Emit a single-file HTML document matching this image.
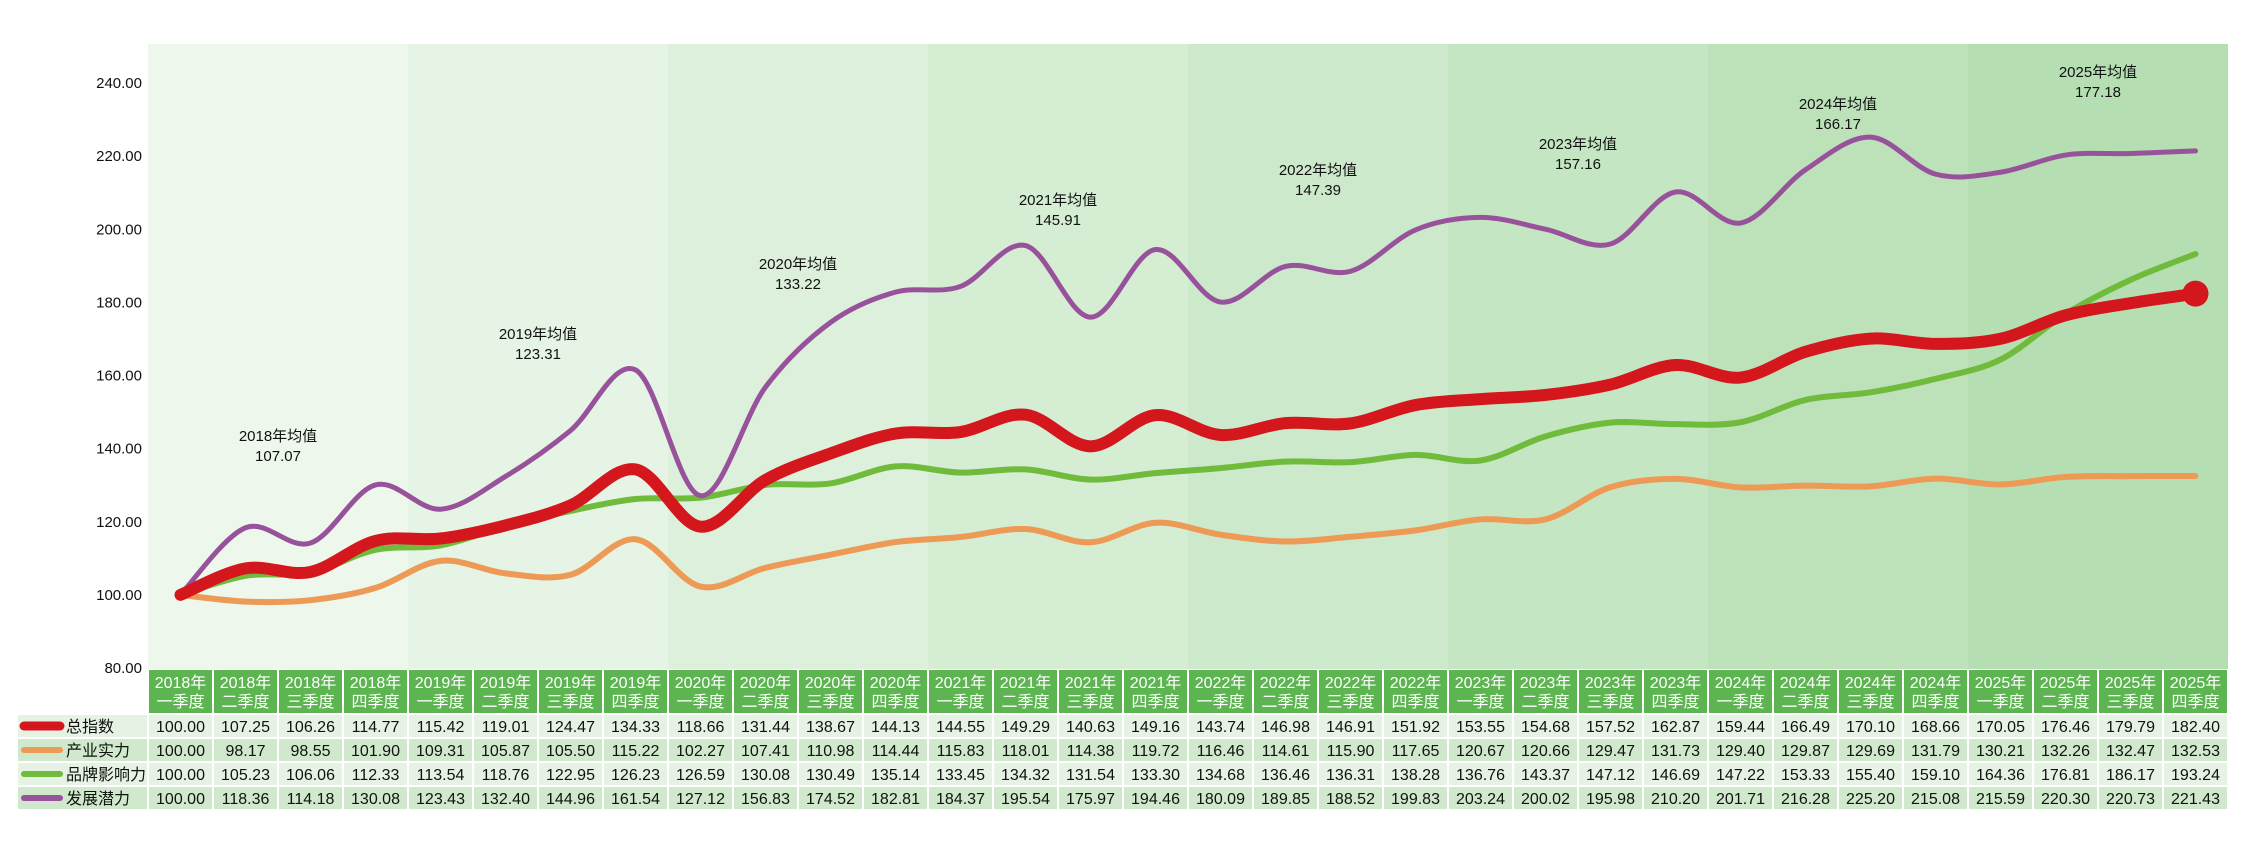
<!DOCTYPE html>
<html><head><meta charset="utf-8"><style>
html,body{margin:0;padding:0;background:#fff;}
svg{display:block;font-family:"Liberation Sans","Noto Sans CJK SC",sans-serif;}
</style></head><body>
<svg id="s" width="2259" height="860" xmlns="http://www.w3.org/2000/svg"></svg>
<script>
const D={
"总指数":[100.00,107.25,106.26,114.77,115.42,119.01,124.47,134.33,118.66,131.44,138.67,144.13,144.55,149.29,140.63,149.16,143.74,146.98,146.91,151.92,153.55,154.68,157.52,162.87,159.44,166.49,170.10,168.66,170.05,176.46,179.79,182.40],
"产业实力":[100.00,98.17,98.55,101.90,109.31,105.87,105.50,115.22,102.27,107.41,110.98,114.44,115.83,118.01,114.38,119.72,116.46,114.61,115.90,117.65,120.67,120.66,129.47,131.73,129.40,129.87,129.69,131.79,130.21,132.26,132.47,132.53],
"品牌影响力":[100.00,105.23,106.06,112.33,113.54,118.76,122.95,126.23,126.59,130.08,130.49,135.14,133.45,134.32,131.54,133.30,134.68,136.46,136.31,138.28,136.76,143.37,147.12,146.69,147.22,153.33,155.40,159.10,164.36,176.81,186.17,193.24],
"发展潜力":[100.00,118.36,114.18,130.08,123.43,132.40,144.96,161.54,127.12,156.83,174.52,182.81,184.37,195.54,175.97,194.46,180.09,189.85,188.52,199.83,203.24,200.02,195.98,210.20,201.71,216.28,225.20,215.08,215.59,220.30,220.73,221.43]};
const cols={"总指数":"#d4161d","产业实力":"#ec9a55","品牌影响力":"#70bb3b","发展潜力":"#98529c"};
const avg=["107.07","123.31","133.22","145.91","147.39","157.16","166.17","177.18"];
const ay=[436,334,264,200,170,144,104,72];
const L=148,W=65,T=44,B=669;
const Y=v=>668-(v-80)*3.656;
const X=i=>L+W*(i+0.5);
let s='';
function mix(a,b,t){return Math.round(a+(b-a)*t);}
for(let y=0;y<8;y++){const t=y/7;
 s+=`<rect x="${L+260*y}" y="${T}" width="260" height="${B-T}" fill="rgb(${mix(237,181,t)},${mix(247,223,t)},${mix(236,178,t)})"/>`;}
for(let v=80;v<=240;v+=20)s+=`<text x="142" y="${Y(v)+5}" font-size="15" text-anchor="end" fill="#111">${v.toFixed(2)}</text>`;
for(let y=0;y<8;y++){const cx=L+260*y+130;
 s+=`<text x="${cx}" y="${ay[y]+5}" font-size="15" text-anchor="middle" fill="#111">${2018+y}年均值</text><text x="${cx}" y="${ay[y]+25}" font-size="15" text-anchor="middle" fill="#111">${avg[y]}</text>`;}
function path(a){let p=`M${X(0)},${Y(a[0])}`;
 for(let i=0;i<a.length-1;i++){const p0=[X(Math.max(i-1,0)),Y(a[Math.max(i-1,0)])],p1=[X(i),Y(a[i])],p2=[X(i+1),Y(a[i+1])],p3=[X(Math.min(i+2,a.length-1)),Y(a[Math.min(i+2,a.length-1)])];
 const k=6;p+=` C${p1[0]+(p2[0]-p0[0])/k},${p1[1]+(p2[1]-p0[1])/k} ${p2[0]-(p3[0]-p1[0])/k},${p2[1]-(p3[1]-p1[1])/k} ${p2[0]},${p2[1]}`;}
 return p;}
const order=[["产业实力",6],["品牌影响力",6],["发展潜力",5],["总指数",12]];
for(const [k,w] of order)s+=`<path d="${path(D[k])}" fill="none" stroke="${cols[k]}" stroke-width="${w}" stroke-linecap="round" stroke-linejoin="round"/>`;
s+=`<circle cx="${X(31)}" cy="${Y(182.4)}" r="13" fill="#d4161d"/>`;
const sn=["一","二","三","四"];
for(let i=0;i<32;i++){const x=L+W*i+1;
 s+=`<rect x="${x}" y="670" width="63" height="43" fill="#5db552"/>`;
 s+=`<text x="${x+31.5}" y="688" font-size="16" text-anchor="middle" fill="#fff">${2018+Math.floor(i/4)}年</text><text x="${x+31.5}" y="707" font-size="16" text-anchor="middle" fill="#fff">${sn[i%4]}季度</text>`;}
const keys=Object.keys(D);
keys.forEach((k,r)=>{const y=715+r*24;const bg=r%2?"#d0e9cc":"#e6f3e4";
 s+=`<rect x="18" y="${y}" width="129" height="22" fill="${bg}"/>`;
 s+=`<line x1="24" y1="${y+11}" x2="60" y2="${y+11}" stroke="${cols[k]}" stroke-width="${r==0?9:6}" stroke-linecap="round"/>`;
 s+=`<text x="66" y="${y+17}" font-size="16" fill="#111">${k}</text>`;
 for(let i=0;i<32;i++){const x=L+W*i+1;
  s+=`<rect x="${x}" y="${y}" width="63" height="22" fill="${bg}"/><text x="${x+31.5}" y="${y+17}" font-size="16" text-anchor="middle" fill="#111">${D[k][i].toFixed(2)}</text>`;}
});
document.getElementById('s').innerHTML=s;
</script>
</body></html>
